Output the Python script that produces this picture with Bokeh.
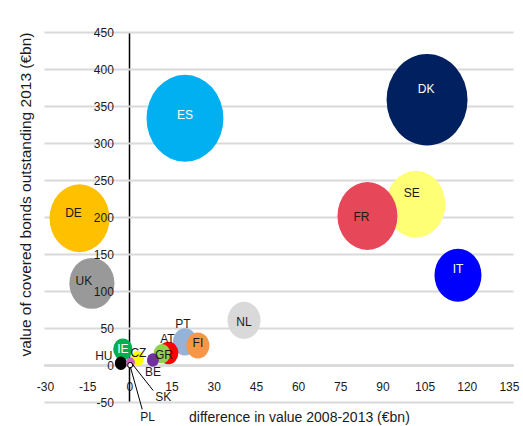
import numpy as np
from bokeh.plotting import figure
from bokeh.models import (ColumnDataSource, FixedTicker, Label, Arrow, Range1d, Title,
                          PrintfTickFormatter, LinearAxis)
from bokeh.core.properties import value
from bokeh.embed import file_html
from bokeh.resources import INLINE

# ---- data ----
countries = ["DK", "ES", "SE", "FR", "IT", "DE", "UK", "NL", "PT", "FI",
             "AT", "GR", "IE", "HU", "CZ", "BE", "PL", "SK"]
diff_2008_2013 = [105.7, 19.6, 101.7, 84.5, 116.7, -17.9, -13.5, 40.6, 19.6, 24.2,
                  13.7, 11.4, -2.5, -3.2, 2.7, 8.2, 0.2, 0.1]
outstanding_2013 = [359, 334, 218, 202, 122, 199, 111, 61, 32, 27,
                    17, 16, 22, 3, 9.5, 7.5, 4, 0.5]
bubble_value = [410, 370, 218, 225, 138, 225, 127, 68, 36, 33,
                25, 18, 23, 9, 11, 9, 5, 1.5]
x_ticks = list(range(-30, 136, 15))
y_ticks = list(range(-50, 451, 50))
x_title = "difference in value 2008-2013 (€bn)"
y_title = "value of covered bonds outstanding 2013 (€bn)"

# ---- styles ----
fill_colors = {"DK": "#002060", "ES": "#00b0f0", "SE": "#ffff75", "FR": "#e6485a",
               "IT": "#0000ff", "DE": "#ffc000", "UK": "#999999", "NL": "#d9d9d9",
               "PT": "#95b3d7", "FI": "#f79646", "AT": "#ff0000", "GR": "#92d050",
               "IE": "#00b050", "HU": "#000000", "CZ": "#ffff00", "BE": "#7030a0",
               "PL": "#cc5fc4", "SK": "#ffffff"}
white_text = {"DK", "ES", "IT", "IE"}
label_offsets = {"DK": (-1, -11), "ES": (0, -3), "SE": (-4, -11), "FR": (-6, 1),
                 "IT": (0, -6), "DE": (-6, -5), "UK": (-8, -2), "NL": (0, 2),
                 "PT": (-2, -18), "FI": (0, -3), "AT": (-1, -14), "GR": (2, 1),
                 "IE": (0, 0), "HU": (-17, -7), "CZ": (1, -5), "BE": (0, 12)}
FONT = "Liberation Sans"
TXT = "#1a1a1a"
GRID = "#d9d9d9"
SIZE_K = 4.0      # px of diameter per sqrt(bubble value)
ASPECT = 1.13     # bubble height / width on screen

diam = [SIZE_K * np.sqrt(v) for v in bubble_value]
src = ColumnDataSource(dict(
    x=diff_2008_2013, y=outstanding_2013, name=countries,
    w=diam, h=[d * ASPECT for d in diam],
    color=[fill_colors[c] for c in countries],
    line=["black" if c == "SK" else None for c in countries],
))

lab = [i for i, c in enumerate(countries) if c in label_offsets]
lsrc = ColumnDataSource(dict(
    x=[diff_2008_2013[i] for i in lab], y=[outstanding_2013[i] for i in lab],
    text=[countries[i] for i in lab],
    xo=[label_offsets[countries[i]][0] for i in lab],
    yo=[label_offsets[countries[i]][1] for i in lab],
    tc=["white" if countries[i] in white_text else TXT for i in lab],
))

# the frame is a little larger than the tick span so that edge tick labels
# and the texts below -50 are not clipped
p = figure(width=523, height=426, output_backend="svg", toolbar_location=None,
           x_range=Range1d(-34.27, 140.0), y_range=Range1d(-82.4, 474.3),
           min_border_left=33, min_border_right=0, min_border_top=14, min_border_bottom=0)
p.outline_line_color = None
p.background_fill_color = "white"

p.ellipse(x="x", y="y", width="w", height="h", width_units="screen", height_units="screen",
          fill_color="color", line_color="line", line_width=1, source=src)
p.text(x="x", y="y", text="text", x_offset="xo", y_offset="yo", text_color="tc",
       text_font=value(FONT), text_font_size="12px", text_align="center",
       text_baseline="middle", source=lsrc, level="overlay")

# leader lines + labels for SK and PL
i_sk, i_pl = countries.index("SK"), countries.index("PL")
p.add_layout(Arrow(end=None, x_start=diff_2008_2013[i_sk] + 0.7, y_start=outstanding_2013[i_sk] + 1.8,
                   x_end=8.3, y_end=-33.8, line_color="black", line_width=1))
p.add_layout(Arrow(end=None, x_start=diff_2008_2013[i_pl], y_start=outstanding_2013[i_pl] - 6,
                   x_end=4.4, y_end=-59.3, line_color="black", line_width=1))
p.add_layout(Label(x=11.9, y=-42, text="SK", text_font=FONT, text_font_size="12px",
                   text_align="center", text_baseline="middle", text_color=TXT))
p.add_layout(Label(x=6.3, y=-69, text="PL", text_font=FONT, text_font_size="12px",
                   text_align="center", text_baseline="middle", text_color=TXT))

# x axis title (inside the extended frame, under the -50 line)
p.add_layout(Label(x=60.3, y=-69.6, text=x_title, text_font=FONT, text_font_size="14px",
                   text_align="center", text_baseline="middle", text_color=TXT))
# y axis title in the left panel
p.add_layout(Title(text=y_title, align="left", offset=70, vertical_align="bottom", standoff=0,
                   text_font=FONT, text_font_size="15.5px", text_font_style="normal",
                   text_color=TXT), "left")

# axes crossing at the origin; lines sit under the bubbles
xax = p.xaxis[0]
yax = p.yaxis[0]
for ax in (xax, yax):
    ax.fixed_location = 0
    ax.major_tick_line_color = None
    ax.minor_tick_line_color = None
    ax.major_label_text_font = FONT
    ax.major_label_text_font_size = "12px"
    ax.major_label_text_color = TXT
    ax.axis_line_width = 1.5
    ax.formatter = PrintfTickFormatter(format="%d")
    ax.level = "underlay"
xax.ticker = FixedTicker(ticks=x_ticks)
yax.ticker = FixedTicker(ticks=y_ticks)
xax.bounds = (x_ticks[0] - 0.5, x_ticks[-1] + 1.5)
yax.bounds = (y_ticks[0], y_ticks[-1])
xax.axis_line_color = "#8a8a8a"
yax.axis_line_color = "black"
yax.major_label_text_color = None
xax.major_label_standoff = 10

# y tick labels drawn above the bubbles (as in the reference)
ylab = LinearAxis(fixed_location=0, ticker=FixedTicker(ticks=y_ticks),
                  formatter=PrintfTickFormatter(format="%d"), bounds=(y_ticks[0], y_ticks[-1]),
                  axis_line_color=None, major_tick_line_color=None, minor_tick_line_color=None,
                  major_label_text_font=FONT, major_label_text_font_size="12px",
                  major_label_text_color=TXT, major_label_standoff=10, level="guide")
p.add_layout(ylab, "left")

p.xgrid.visible = False
grid = p.ygrid[0]
grid.ticker = FixedTicker(ticks=y_ticks)
grid.bounds = (-1000, 1000)
grid.grid_line_color = GRID
grid.grid_line_width = 2
if "cross_bounds" in grid.properties():
    grid.cross_bounds = (x_ticks[0] - 0.5, x_ticks[-1] + 1.5)
else:
    grid.visible = False
    n = len(y_ticks)
    p.segment(x0=[x_ticks[0] - 0.5] * n, y0=y_ticks, x1=[x_ticks[-1] + 1.5] * n, y1=y_ticks,
              line_color=GRID, line_width=2, level="underlay")

open("out.html", "w").write(file_html(p, INLINE))
